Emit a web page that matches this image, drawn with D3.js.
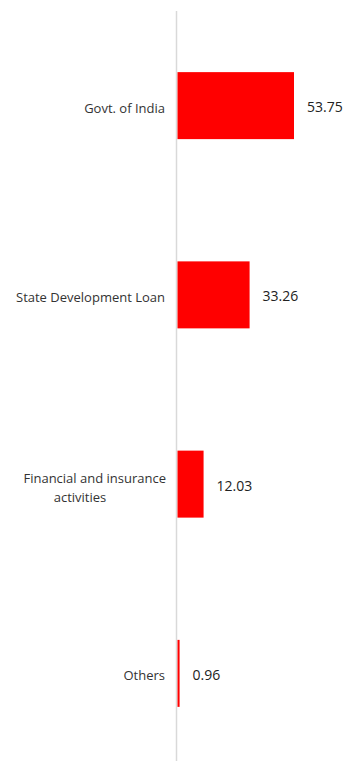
<!DOCTYPE html>
<html><head><meta charset="utf-8">
<script src="https://cdn.jsdelivr.net/npm/d3@7"></script>
<style>html,body{margin:0;padding:0;background:#fff;}</style>
</head><body><svg id="c" width="353" height="761"></svg>
<script>
const categories = ["Govt. of India", "State Development Loan", "Financial and insurance activities", "Others"];
const labelLines = [["Govt. of India"], ["State Development Loan"], ["Financial and insurance", "activities"], ["Others"]];
const values = [53.75, 33.26, 12.03, 0.96];
const valueLabels = ["53.75", "33.26", "12.03", "0.96"];

const svg = d3.select("#c");
const x0 = 177.5;
const x = d3.scaleLinear().domain([0, 53.75]).range([x0, 294]);
const y = d3.scaleBand().domain(categories).range([11, 768]).paddingInner(0.646).paddingOuter(0.323);

svg.append("line").attr("x1", 176.5).attr("x2", 176.5).attr("y1", 11).attr("y2", 761)
  .attr("stroke", "#d9d9d9").attr("stroke-width", 1.5);

svg.selectAll("rect.bar").data(values).join("rect").attr("class", "bar")
  .attr("x", x(0)).attr("y", (d, i) => y(categories[i]))
  .attr("width", d => x(d) - x(0)).attr("height", y.bandwidth())
  .attr("fill", "#ff0000");

svg.selectAll("text.val").data(values).join("text").attr("class", "val")
  .attr("x", d => x(d) + 13).attr("y", (d, i) => y(categories[i]) + y.bandwidth() / 2 + 1)
  .attr("dominant-baseline", "central")
  .style("font-family", "'Open Sans', sans-serif").style("font-size", "14px").attr("fill", "#222")
  .text((d, i) => valueLabels[i]);

const lab = svg.selectAll("g.lab").data(categories).join("g").attr("class", "lab");
lab.each(function (c, i) {
  const g = d3.select(this);
  const lines = labelLines[i];
  const cy = y(c) + y.bandwidth() / 2 + 2;
  if (lines.length === 1) {
    g.append("text").attr("x", 165).attr("y", cy).attr("text-anchor", "end")
      .attr("dominant-baseline", "central")
      .style("font-family", "'Open Sans', sans-serif").style("font-size", "13px").attr("fill", "#333")
      .text(lines[0]);
  } else {
    g.append("text").attr("x", 166).attr("y", cy - 8).attr("text-anchor", "end")
      .attr("dominant-baseline", "central")
      .style("font-family", "'Open Sans', sans-serif").style("font-size", "13px").attr("fill", "#333")
      .text(lines[0]);
    g.append("text").attr("x", 80).attr("y", cy + 11).attr("text-anchor", "middle")
      .attr("dominant-baseline", "central")
      .style("font-family", "'Open Sans', sans-serif").style("font-size", "13px").attr("fill", "#333")
      .text(lines[1]);
  }
});
</script></body></html>
